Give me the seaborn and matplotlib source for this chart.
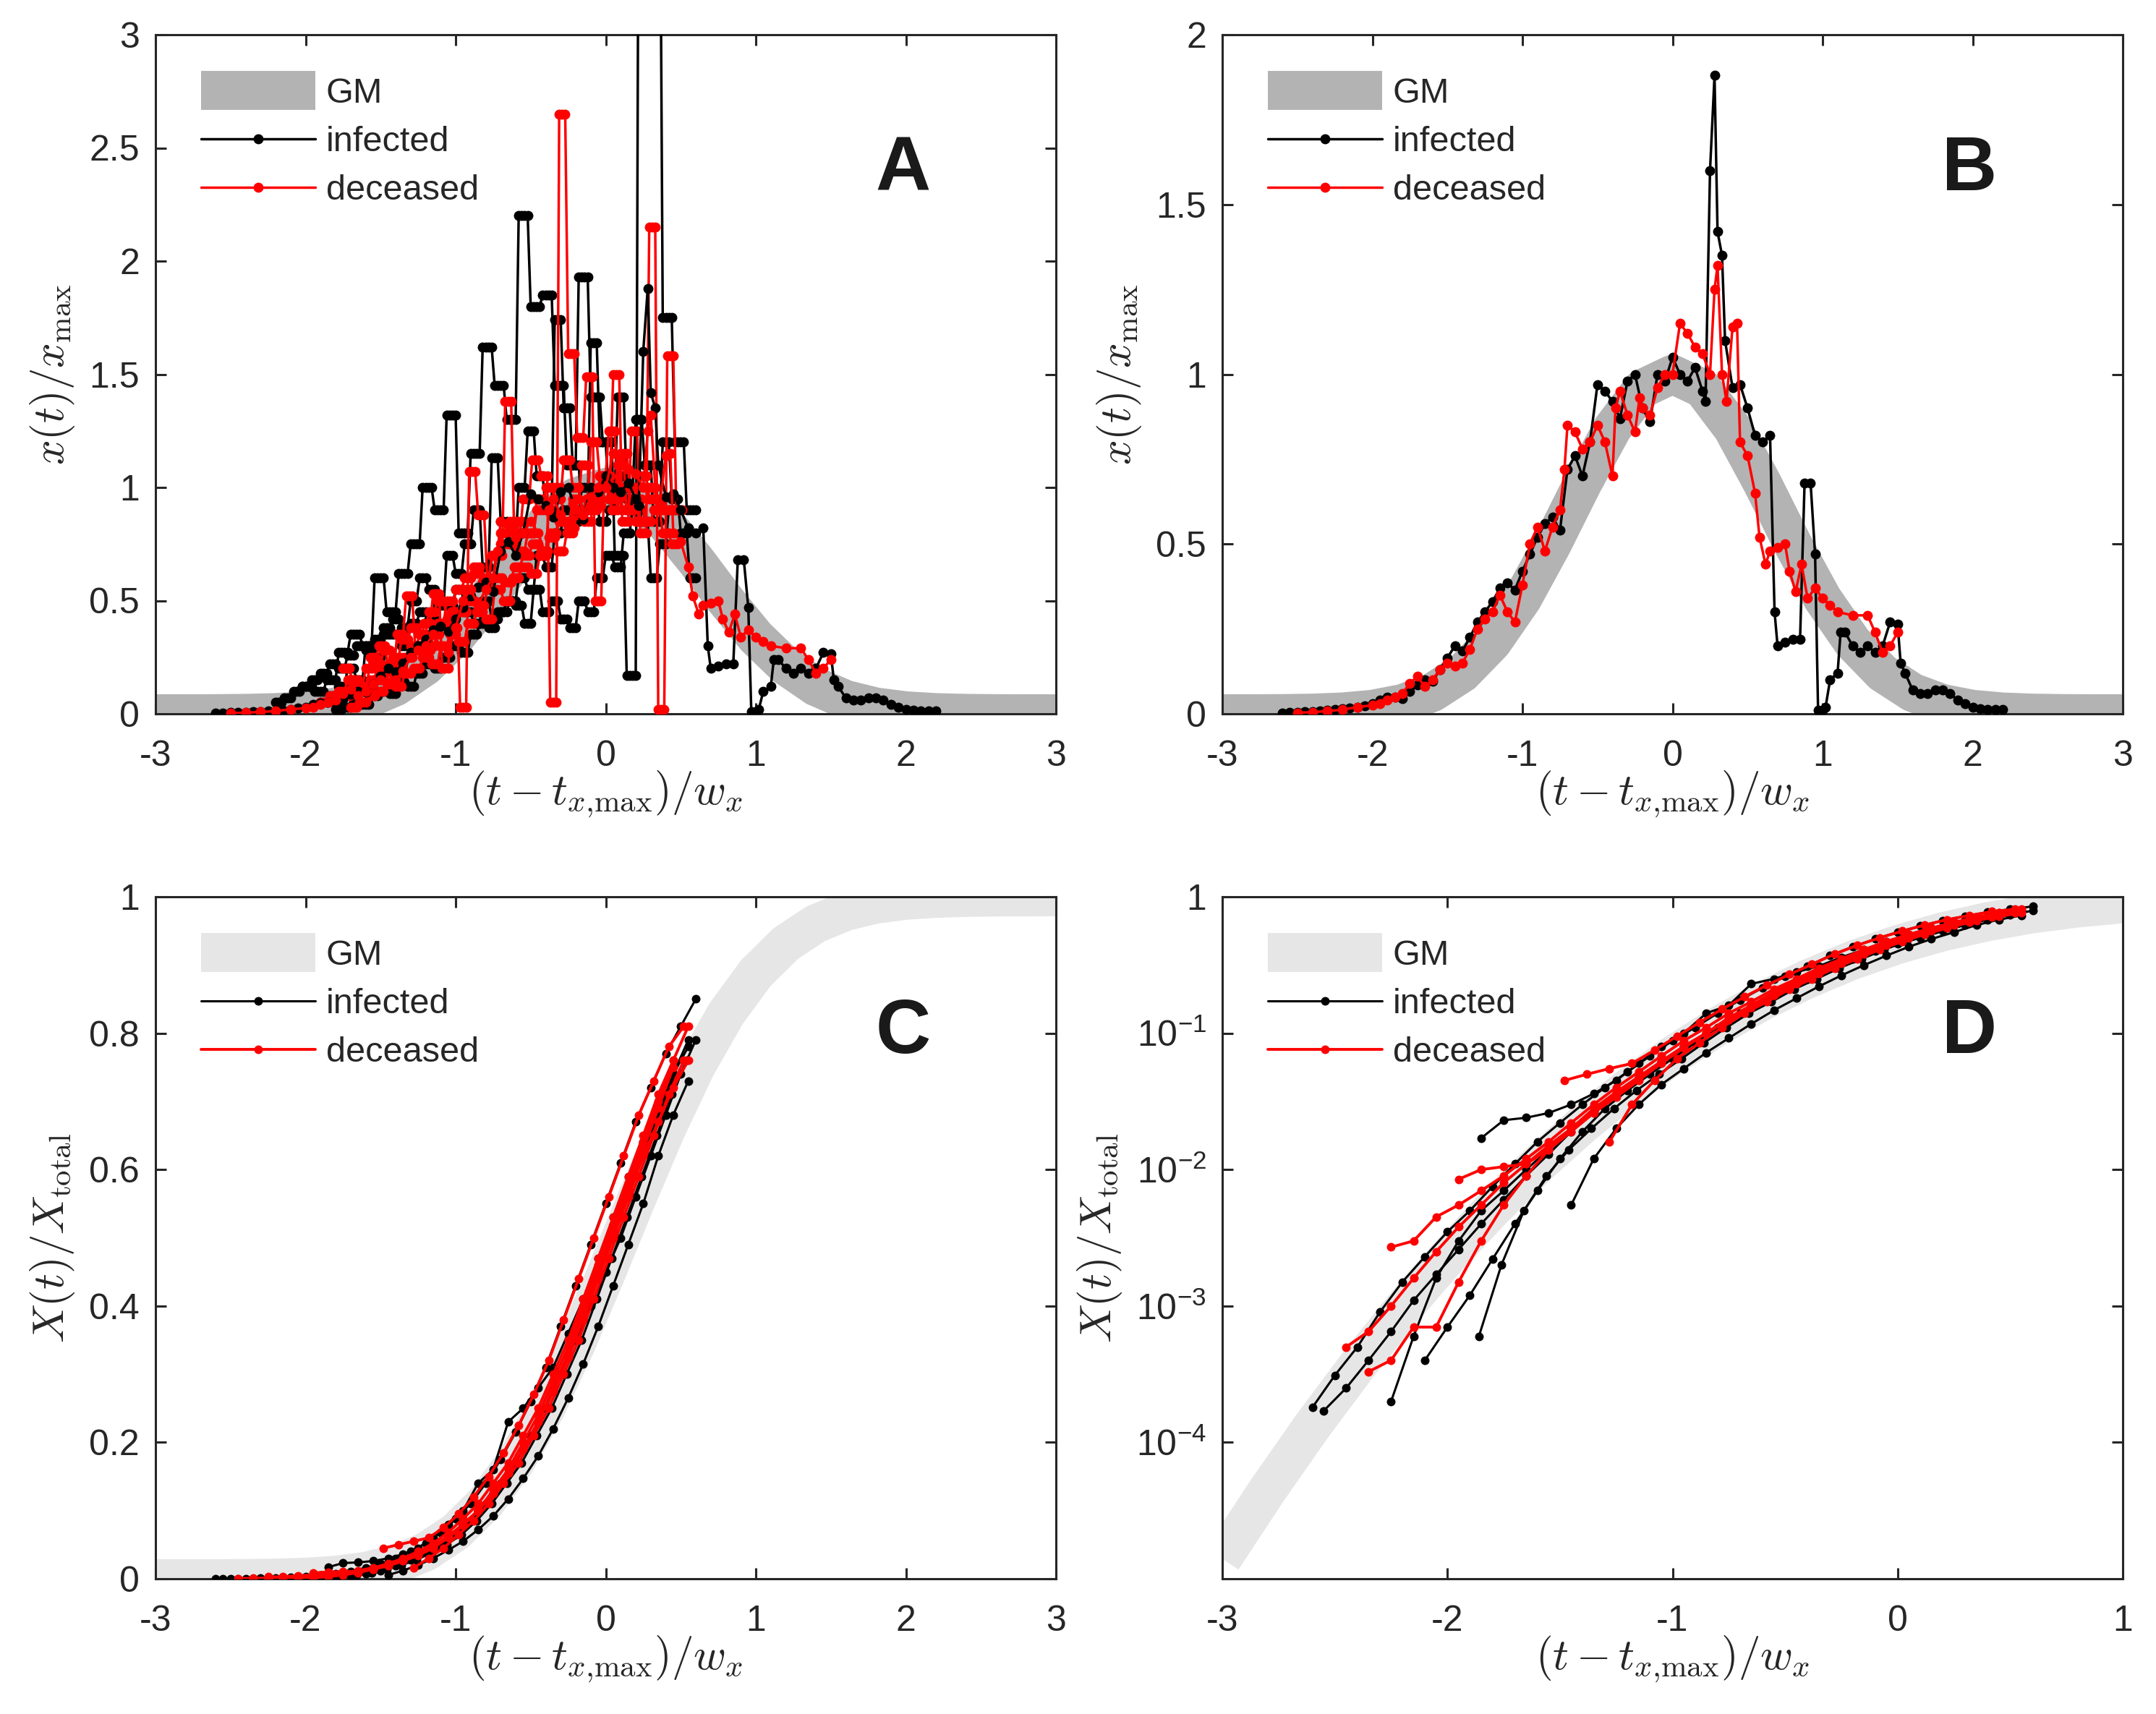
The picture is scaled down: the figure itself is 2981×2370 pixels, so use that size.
import numpy as np
import matplotlib
matplotlib.use("Agg")
import matplotlib.pyplot as plt
from matplotlib.lines import Line2D
import seaborn as sns

# ---------------------------------------------------------------- data
# GM model curves (grid step 0.2 from -3 to 3)
gm_x = [-3.0, -2.8, -2.6, -2.4, -2.2, -2.0, -1.8, -1.6, -1.4, -1.2, -1.0, -0.8, -0.6, -0.4, -0.2, 0.0,
        0.2, 0.4, 0.6, 0.8, 1.0, 1.2, 1.4, 1.6, 1.8, 2.0, 2.2, 2.4, 2.6, 2.8, 3.0]
gm_density = [0.00006, 0.00021, 0.00067, 0.00197, 0.00534, 0.0132, 0.0301, 0.0628, 0.120, 0.211, 0.339,
              0.501, 0.678, 0.841, 0.958, 1.0, 0.958, 0.841, 0.678, 0.501, 0.339, 0.211, 0.120, 0.0628,
              0.0301, 0.0132, 0.00534, 0.00197, 0.00067, 0.00021, 0.00006]
gm_cumulative = [1.40e-5, 4.45e-5, 1.32e-4, 3.65e-4, 9.42e-4, 2.27e-3, 5.12e-3, 0.01081, 0.02133, 0.03947,
                 0.0686, 0.1120, 0.1721, 0.2496, 0.3427, 0.4463, 0.5537, 0.6573, 0.7504, 0.8279, 0.8880,
                 0.9314, 0.9605, 0.9787, 0.9892, 0.99488, 0.99773, 0.99906, 0.99964, 0.99987, 0.99996]

# Panel B (also drawn in A): daily series (x, value)
b_infected = [(-2.6, 0.003), (-2.55, 0.004), (-2.5, 0.005), (-2.45, 0.006), (-2.4, 0.007), (-2.35, 0.008),
              (-2.3, 0.010), (-2.25, 0.012), (-2.2, 0.014), (-2.15, 0.017), (-2.1, 0.020), (-2.05, 0.024),
              (-2.0, 0.030), (-1.95, 0.040), (-1.9, 0.048), (-1.85, 0.050), (-1.8, 0.045), (-1.75, 0.065),
              (-1.7, 0.085), (-1.65, 0.100), (-1.6, 0.095), (-1.55, 0.130), (-1.5, 0.165), (-1.45, 0.200),
              (-1.4, 0.185), (-1.35, 0.225), (-1.3, 0.270), (-1.25, 0.300), (-1.2, 0.330), (-1.15, 0.370),
              (-1.1, 0.385), (-1.05, 0.365), (-1.0, 0.420), (-0.95, 0.470), (-0.9, 0.520), (-0.85, 0.560),
              (-0.8, 0.580), (-0.75, 0.540), (-0.7, 0.720), (-0.65, 0.760), (-0.6, 0.700), (-0.55, 0.800),
              (-0.5, 0.970), (-0.45, 0.950), (-0.4, 0.920), (-0.35, 0.870), (-0.3, 0.980), (-0.25, 1.000),
              (-0.2, 0.900), (-0.15, 0.860), (-0.1, 1.000), (-0.05, 0.980), (0.0, 1.050), (0.05, 1.000),
              (0.1, 0.980), (0.15, 1.020), (0.2, 0.950), (0.22, 0.920), (0.25, 1.600), (0.28, 1.880),
              (0.3, 1.420), (0.33, 1.350), (0.35, 1.100), (0.4, 0.960), (0.45, 0.970), (0.5, 0.900),
              (0.55, 0.820), (0.6, 0.800), (0.65, 0.820), (0.68, 0.300), (0.7, 0.200), (0.75, 0.210),
              (0.8, 0.220), (0.85, 0.220), (0.88, 0.680), (0.92, 0.680), (0.95, 0.470), (0.97, 0.010),
              (1.0, 0.010), (1.02, 0.020), (1.05, 0.100), (1.1, 0.120), (1.12, 0.240), (1.15, 0.240),
              (1.2, 0.200), (1.25, 0.180), (1.3, 0.200), (1.35, 0.180), (1.4, 0.200), (1.45, 0.270),
              (1.5, 0.265), (1.52, 0.150), (1.55, 0.120), (1.6, 0.070), (1.65, 0.060), (1.7, 0.060),
              (1.75, 0.070), (1.8, 0.070), (1.85, 0.060), (1.9, 0.040), (1.95, 0.030), (2.0, 0.020),
              (2.05, 0.015), (2.1, 0.012), (2.15, 0.012), (2.2, 0.012)]
b_deceased = [(-2.5, 0.003), (-2.4, 0.005), (-2.3, 0.008), (-2.2, 0.012), (-2.1, 0.020), (-2.0, 0.025),
              (-1.95, 0.030), (-1.9, 0.040), (-1.85, 0.050), (-1.8, 0.060), (-1.75, 0.090), (-1.7, 0.110),
              (-1.65, 0.080), (-1.6, 0.100), (-1.55, 0.130), (-1.5, 0.150), (-1.45, 0.140), (-1.4, 0.150),
              (-1.35, 0.190), (-1.3, 0.250), (-1.25, 0.280), (-1.2, 0.300), (-1.15, 0.350), (-1.1, 0.300),
              (-1.05, 0.270), (-1.0, 0.380), (-0.95, 0.500), (-0.9, 0.550), (-0.85, 0.480), (-0.8, 0.550),
              (-0.75, 0.600), (-0.72, 0.720), (-0.7, 0.850), (-0.65, 0.830), (-0.6, 0.780), (-0.55, 0.800),
              (-0.5, 0.850), (-0.45, 0.800), (-0.4, 0.700), (-0.38, 0.900), (-0.35, 0.950), (-0.3, 0.880),
              (-0.25, 0.830), (-0.22, 0.930), (-0.2, 0.900), (-0.15, 0.880), (-0.1, 0.960), (-0.05, 1.000),
              (0.0, 1.000), (0.05, 1.150), (0.1, 1.120), (0.15, 1.080), (0.2, 1.060), (0.25, 1.000),
              (0.28, 1.250), (0.3, 1.320), (0.33, 1.000), (0.36, 0.920), (0.4, 1.140), (0.43, 1.150),
              (0.45, 0.800), (0.5, 0.760), (0.55, 0.650), (0.58, 0.520), (0.62, 0.440), (0.65, 0.480),
              (0.7, 0.490), (0.75, 0.500), (0.78, 0.420), (0.82, 0.360), (0.86, 0.440), (0.9, 0.340),
              (0.95, 0.370), (1.0, 0.340), (1.05, 0.320), (1.1, 0.300), (1.2, 0.290), (1.3, 0.290),
              (1.35, 0.240), (1.4, 0.180), (1.45, 0.200), (1.5, 0.240)]

# Panel A extra countries: weekly-reported levels (start x, levels)
a_inf1_start, a_inf1 = -2.02, [0.12, 0.10, 0.15, 0.27, 0.35, 0.30, 0.60, 0.45, 0.62, 0.75, 1.00, 0.90, 1.32,
                               0.80, 1.15, 1.62, 1.45, 1.30, 2.20, 1.80, 1.85, 1.45, 1.10, 1.93, 1.40, 1.20,
                               0.70, 0.17, 4.00, 4.00, 1.75, 1.20, 0.90]
a_inf2_start, a_inf2 = -1.9, [0.05, 0.08, 0.12, 0.20, 0.15, 0.30, 0.25, 0.35, 0.42, 0.38, 0.50, 0.60, 0.55,
                              0.48, 0.70, 0.62, 0.75, 0.90, 0.65, 1.13, 0.85, 0.75, 1.00, 1.25, 1.05, 0.90,
                              1.74, 1.35, 1.10, 0.90, 1.64, 1.20, 0.95, 1.40, 1.00, 1.30, 1.10, 0.85, 1.20,
                              0.95, 0.80, 0.60]
a_inf3_start, a_inf3 = -1.8, [0.02, 0.03, 0.05, 0.04, 0.08, 0.10, 0.09, 0.14, 0.12, 0.18, 0.22, 0.20, 0.25,
                              0.30, 0.27, 0.35, 0.40, 0.38, 0.45, 0.50, 0.48, 0.40, 0.55, 0.45, 0.50, 0.42,
                              0.38, 0.50, 0.45, 0.60, 0.70, 0.65, 0.80, 0.92, 0.85, 0.60, 0.75, 0.90]
a_inf4_start, a_inf4 = -2.2, [0.05, 0.07, 0.10, 0.12, 0.15, 0.18, 0.22, 0.20, 0.26, 0.30, 0.28, 0.33, 0.38,
                              0.35, 0.30, 0.40, 0.45, 0.42, 0.50, 0.48, 0.55, 0.45, 0.40, 0.50, 0.42, 0.45,
                              0.50, 0.60, 0.55, 0.70, 0.65, 0.80, 0.90, 0.85, 1.00, 0.95, 0.85, 0.90, 1.05,
                              0.95, 0.90]
a_dec1_start, a_dec1 = -1.75, [0.20, 0.15, 0.12, 0.25, 0.30, 0.20, 0.35, 0.52, 0.30, 0.40, 0.53, 0.20, 0.45,
                               0.03, 1.07, 0.88, 0.60, 0.70, 1.38, 0.80, 0.95, 1.12, 1.05, 0.05, 2.65, 1.59,
                               1.22, 1.49, 0.50, 1.05, 1.50, 0.85, 1.25, 0.80, 2.15, 0.02, 1.58, 0.90]
a_dec2_start, a_dec2 = -1.9, [0.05, 0.08, 0.10, 0.15, 0.12, 0.20, 0.22, 0.28, 0.25, 0.33, 0.38, 0.35, 0.45,
                              0.50, 0.42, 0.55, 0.60, 0.65, 0.58, 0.70, 0.75, 0.85, 0.72, 0.80, 0.95, 0.90,
                              1.00, 0.85, 0.95, 1.10, 0.90, 1.05, 1.25, 1.00, 0.90, 0.95, 0.85, 0.90, 0.80,
                              0.75]
a_dec3_start, a_dec3 = -1.7, [0.03, 0.05, 0.08, 0.10, 0.13, 0.12, 0.18, 0.20, 0.25, 0.22, 0.30, 0.35, 0.32,
                              0.40, 0.45, 0.42, 0.55, 0.50, 0.60, 0.65, 0.62, 0.70, 0.78, 0.72, 0.80, 0.88,
                              0.85, 0.95, 1.02, 0.90, 1.15, 1.00, 0.85, 1.00, 0.95, 0.90]
a_dec4_start, a_dec4 = -1.75, [0.08, 0.10, 0.12, 0.15, 0.18, 0.22, 0.20, 0.25, 0.30, 0.28, 0.35, 0.40, 0.38,
                               0.45, 0.50, 0.48, 0.55, 0.60, 0.58, 0.65, 0.70, 0.75, 0.72, 0.80, 0.85, 0.82,
                               0.90, 0.95, 0.92, 1.00, 0.95, 0.90, 1.00, 1.05, 0.95, 0.90]
a_dec5_start, a_dec5 = -1.6, [0.10, 0.15, 0.20, 0.18, 0.25, 0.30, 0.35, 0.30, 0.40, 0.50, 0.45, 0.55, 0.62,
                              0.58, 0.70, 0.80, 0.75, 0.85, 0.80, 0.90, 1.00, 0.95, 1.12, 1.00, 0.90, 1.20,
                              1.05, 0.95, 1.10, 0.90, 0.85]

# Panels C and D: cumulative fractions, one point every 0.1 from the start x
cum_infected = {
    -2.6: [1.8e-4, 3.1e-4, 5e-4, 9e-4, 1.5e-3, 2.3e-3, 3.5e-3, 5e-3, 7.5e-3, 0.011, 0.016, 0.022, 0.03,
           0.04, 0.052, 0.068, 0.088, 0.11, 0.14, 0.175, 0.215, 0.26, 0.31, 0.37, 0.43, 0.49, 0.55, 0.61,
           0.67, 0.72, 0.77, 0.81, 0.85],
    -1.85: [0.017, 0.023, 0.024, 0.026, 0.03, 0.036, 0.045, 0.06, 0.08, 0.1, 0.14, 0.16, 0.23, 0.25, 0.28,
            0.31, 0.36, 0.41, 0.47, 0.53, 0.59, 0.64, 0.68, 0.74, 0.78],
    -2.55: [1.7e-4, 2.5e-4, 4e-4, 6.5e-4, 1.1e-3, 1.7e-3, 2.6e-3, 4e-3, 6e-3, 9e-3, 0.013, 0.019, 0.026,
            0.035, 0.046, 0.06, 0.078, 0.1, 0.125, 0.155, 0.19, 0.23, 0.28, 0.33, 0.39, 0.45, 0.51, 0.57,
            0.63, 0.69, 0.74, 0.79],
    -2.25: [2e-4, 6e-4, 1.6e-3, 3e-3, 5e-3, 7e-3, 0.01, 0.014, 0.02, 0.027, 0.036, 0.047, 0.062, 0.08, 0.1,
            0.125, 0.155, 0.19, 0.23, 0.275, 0.325, 0.38, 0.44, 0.5, 0.56, 0.62, 0.68, 0.73],
    -2.1: [4e-4, 7e-4, 1.2e-3, 2.2e-3, 4e-3, 7e-3, 0.012, 0.019, 0.028, 0.038, 0.05, 0.065, 0.085, 0.11,
           0.14, 0.17, 0.21, 0.25, 0.3, 0.35, 0.4, 0.45, 0.5, 0.56, 0.62, 0.68, 0.74, 0.79],
    -1.86: [6e-4, 2e-3, 5e-3, 9e-3, 0.014, 0.02, 0.028, 0.038, 0.05, 0.065, 0.085, 0.11, 0.14, 0.17, 0.21,
            0.25, 0.3, 0.35, 0.41, 0.47, 0.53, 0.59, 0.65, 0.71, 0.76],
    -1.45: [5.5e-3, 0.012, 0.02, 0.03, 0.042, 0.055, 0.072, 0.092, 0.117, 0.147, 0.18, 0.22, 0.265, 0.315,
            0.37, 0.43, 0.49, 0.55, 0.62, 0.68, 0.73],
}
cum_deceased = {
    -2.45: [5e-4, 6.5e-4, 1e-3, 1.6e-3, 2.5e-3, 3.8e-3, 5.5e-3, 8e-3, 0.011, 0.015, 0.02, 0.027, 0.036,
            0.047, 0.062, 0.08, 0.1, 0.13, 0.16, 0.2, 0.24, 0.29, 0.34, 0.4, 0.46, 0.52, 0.58, 0.64, 0.7,
            0.76, 0.81],
    -2.35: [3.3e-4, 4e-4, 7e-4, 7e-4, 1.5e-3, 3e-3, 5.5e-3, 9e-3, 0.014, 0.02, 0.028, 0.037, 0.048, 0.062,
            0.08, 0.1, 0.125, 0.155, 0.19, 0.23, 0.275, 0.325, 0.38, 0.44, 0.5, 0.56, 0.62, 0.67, 0.72, 0.76],
    -1.95: [8.5e-3, 0.01, 0.0105, 0.011, 0.014, 0.019, 0.026, 0.034, 0.045, 0.06, 0.078, 0.1, 0.125, 0.155,
            0.19, 0.23, 0.28, 0.33, 0.39, 0.45, 0.51, 0.57, 0.63, 0.69, 0.75],
    -2.25: [2.7e-3, 3e-3, 4.5e-3, 5.5e-3, 7e-3, 9e-3, 0.012, 0.016, 0.022, 0.03, 0.04, 0.052, 0.068, 0.088,
            0.11, 0.14, 0.17, 0.21, 0.25, 0.3, 0.35, 0.41, 0.47, 0.53, 0.59, 0.65, 0.71, 0.76],
    -1.48: [0.045, 0.05, 0.055, 0.06, 0.075, 0.095, 0.12, 0.15, 0.185, 0.225, 0.27, 0.32, 0.38, 0.44, 0.5,
            0.56, 0.62, 0.68, 0.73, 0.78, 0.81],
    -1.28: [0.016, 0.03, 0.045, 0.065, 0.085, 0.11, 0.14, 0.17, 0.21, 0.25, 0.3, 0.35, 0.41, 0.47, 0.53,
            0.59, 0.65, 0.71, 0.76],
}

legend_labels = ["GM", "infected", "deceased"]
xticks_ac = [-3, -2, -1, 0, 1, 2, 3]
xticks_d = [-3, -2, -1, 0, 1]
yticks_a = [0, 0.5, 1, 1.5, 2, 2.5, 3]
yticks_a_lab = ["0", "0.5", "1", "1.5", "2", "2.5", "3"]
yticks_b = [0, 0.5, 1, 1.5, 2]
yticks_b_lab = ["0", "0.5", "1", "1.5", "2"]
yticks_c = [0, 0.2, 0.4, 0.6, 0.8, 1]
yticks_c_lab = ["0", "0.2", "0.4", "0.6", "0.8", "1"]
yticks_d = [1e-4, 1e-3, 1e-2, 1e-1, 1]
yticks_d_lab = [r"$10^{-4}$", r"$10^{-3}$", r"$10^{-2}$", r"$10^{-1}$", "1"]

# ---------------------------------------------------------------- style
sns.set_theme(style="ticks")
plt.rcParams["font.family"] = ["Liberation Sans", "DejaVu Sans"]
plt.rcParams["mathtext.fontset"] = "cm"
plt.rcParams["mathtext.rm"] = "Liberation Sans"
plt.rcParams["mathtext.it"] = "Liberation Sans:italic"
plt.rcParams["mathtext.bf"] = "Liberation Sans:bold"
plt.rcParams["axes.unicode_minus"] = False

DPI = 200
W, H = 2981, 2370
fig = plt.figure(figsize=(W / DPI, H / DPI), dpi=DPI)
fig.patch.set_facecolor("white")


def rect(l, r, t, b):
    return [l / W, 1 - b / H, (r - l) / W, (b - t) / H]


axA = fig.add_axes(rect(215, 1460, 48, 987))
axB = fig.add_axes(rect(1690, 2935, 48, 987))
axC = fig.add_axes(rect(215, 1460, 1240, 2183))
axD = fig.add_axes(rect(1690, 2935, 1240, 2183))

GM_DARK = "#b3b3b3"
GM_LIGHT = "#e6e6e6"
GM_LW = 19.4
INK = "#262626"
TICK_FS = 18
LAB_FS = 22
MS_AB, LW_AB = 5.0, 1.25
MS_CD = 4.3


def draw(ax, x, y, color, lw, ms):
    sns.lineplot(x=np.asarray(x, float), y=np.asarray(y, float), ax=ax, color=color, linewidth=lw,
                 marker="o", markersize=ms, markeredgecolor=color, markeredgewidth=0,
                 sort=False, estimator=None, legend=False, zorder=3)


def draw_levels(ax, start, levels, color, hold=3, dx=0.02):
    y = np.repeat(np.asarray(levels, float), hold)
    x = start + dx * np.arange(len(y))
    draw(ax, x, y, color, LW_AB, MS_AB)


def draw_gm(ax, y, color):
    sns.lineplot(x=gm_x, y=y, ax=ax, color=color, linewidth=GM_LW, sort=False, estimator=None,
                 legend=False, zorder=1, solid_capstyle="butt")


def style(ax, xlim, xticks, ylim, yticks, ylabs, ylabel, letter, gmcolor, lw_blk, lw_red, ms):
    ax.set_xlim(*xlim)
    ax.set_ylim(*ylim)
    ax.set_xticks(xticks)
    ax.set_xticklabels([str(v) for v in xticks])
    ax.set_yticks(yticks)
    ax.set_yticklabels(ylabs, math_fontfamily="custom")
    ax.minorticks_off()
    ax.tick_params(axis="both", which="both", direction="in", top=True, right=True, length=5.5,
                   width=1.1, color=INK, labelsize=TICK_FS, labelcolor=INK)
    ax.tick_params(axis="x", pad=13)
    ax.tick_params(axis="y", pad=8)
    for s in ax.spines.values():
        s.set_color(INK)
        s.set_linewidth(1.1)
        s.set_visible(True)
    ax.set_xlabel(r"$(t-t_{x{,}\mathrm{max}})/w_x$", fontsize=LAB_FS, color=INK, labelpad=-2)
    ax.set_ylabel(ylabel, fontsize=LAB_FS, color=INK, labelpad=6)
    ax.text(0.83, 0.80, letter, transform=ax.transAxes, fontsize=38, fontweight="bold",
            ha="center", va="center", color="#1a1a1a")
    handles = [Line2D([], [], color=gmcolor, lw=GM_LW, solid_capstyle="butt"),
               Line2D([], [], color="black", lw=lw_blk, marker="o", ms=ms, mew=0),
               Line2D([], [], color="red", lw=lw_red, marker="o", ms=ms, mew=0)]
    ax.legend(handles, legend_labels, loc="upper left", frameon=False, fontsize=17.5,
              handlelength=3.25, handletextpad=0.3, labelspacing=0.45, borderaxespad=0.0,
              bbox_to_anchor=(0.035, 0.958))
    ax.set_facecolor("white")


# ---- Panel A
draw_gm(axA, gm_density, GM_DARK)
for start, lev, hold in [(a_inf1_start, a_inf1, 4), (a_inf2_start, a_inf2, 3),
                         (a_inf3_start, a_inf3, 3), (a_inf4_start, a_inf4, 3)]:
    draw_levels(axA, start, lev, "black", hold=hold)
for start, lev in [(a_dec1_start, a_dec1), (a_dec2_start, a_dec2), (a_dec3_start, a_dec3),
                   (a_dec4_start, a_dec4), (a_dec5_start, a_dec5)]:
    draw_levels(axA, start, lev, "red")
bi = np.array(b_infected)
bd = np.array(b_deceased)
draw(axA, bi[:, 0], bi[:, 1], "black", LW_AB, MS_AB)
draw(axA, bd[:, 0], bd[:, 1], "red", LW_AB, MS_AB)
style(axA, (-3, 3), xticks_ac, (0, 3), yticks_a, yticks_a_lab, r"$x(t)/x_{\mathrm{max}}$", "A",
      GM_DARK, LW_AB, LW_AB, MS_AB)

# ---- Panel B
draw_gm(axB, gm_density, GM_DARK)
draw(axB, bi[:, 0], bi[:, 1], "black", LW_AB, MS_AB)
draw(axB, bd[:, 0], bd[:, 1], "red", LW_AB, MS_AB)
style(axB, (-3, 3), xticks_ac, (0, 2), yticks_b, yticks_b_lab, r"$x(t)/x_{\mathrm{max}}$", "B",
      GM_DARK, LW_AB, LW_AB, MS_AB)

# ---- Panels C and D
for ax, logy in [(axC, False), (axD, True)]:
    if logy:
        ax.set_yscale("log")
    draw_gm(ax, gm_cumulative, GM_LIGHT)
    for start, vals in cum_infected.items():
        draw(ax, start + 0.1 * np.arange(len(vals)), vals, "black", 1.1, MS_CD)
    for start, vals in cum_deceased.items():
        draw(ax, start + 0.1 * np.arange(len(vals)), vals, "red", 1.4, MS_CD)

style(axC, (-3, 3), xticks_ac, (0, 1), yticks_c, yticks_c_lab, r"$X(t)/X_{\mathrm{total}}$", "C",
      GM_LIGHT, 1.1, 1.4, MS_CD)
style(axD, (-3, 1), xticks_d, (1e-5, 1), yticks_d, yticks_d_lab, r"$X(t)/X_{\mathrm{total}}$", "D",
      GM_LIGHT, 1.1, 1.4, MS_CD)

fig.savefig("out.png", dpi=DPI, facecolor="white")
